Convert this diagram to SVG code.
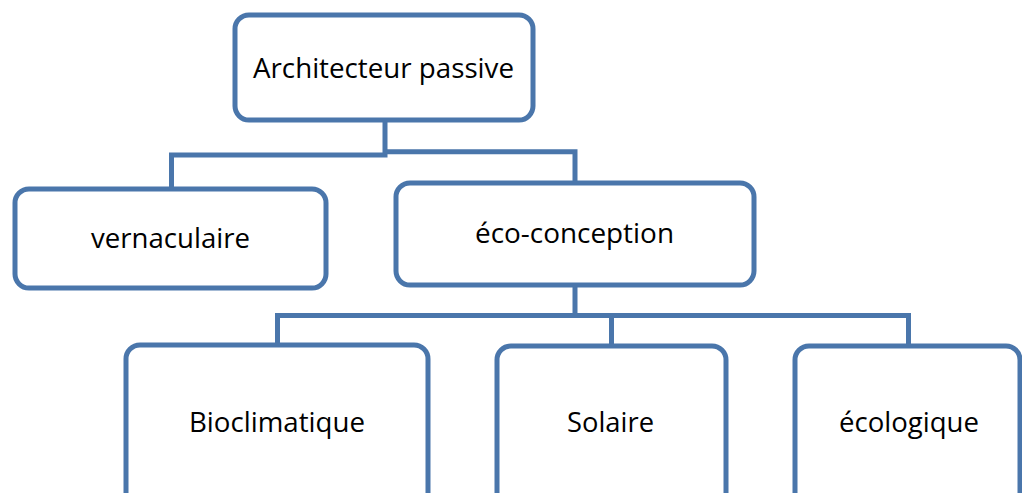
<svg xmlns="http://www.w3.org/2000/svg" width="1022" height="493" viewBox="0 0 1022 493">
<style>
.box{fill:#ffffff;stroke:#4A76AB;stroke-width:5;}
.conn{fill:none;stroke:#4A76AB;stroke-width:5;stroke-linejoin:miter;stroke-linecap:butt;}
.lbl{font-family:"Open Sans","Noto Sans","Liberation Sans",sans-serif;font-size:28px;fill:#000000;text-anchor:middle;}
</style>
<rect width="1022" height="493" fill="#ffffff"/>
<g id="connectors">
<path class="conn" d="M385,120 V155 H171.5 V189"/>
<path class="conn" d="M385,151.7 H575 V183"/>
<path class="conn" d="M575,285 V315.5 H277.5 V345"/>
<path class="conn" d="M575,315.5 H908.5 V346"/>
<path class="conn" d="M611.5,315.5 V346"/>
</g>
<g id="node-architecteur">
<rect class="box" x="235" y="15" width="298" height="105" rx="14"/>
<text class="lbl" x="383.5" y="78" textLength="261" lengthAdjust="spacingAndGlyphs">Architecteur passive</text>
</g>
<g id="node-vernaculaire">
<rect class="box" x="15" y="189" width="311" height="99" rx="14"/>
<text class="lbl" x="170.5" y="248" textLength="159" lengthAdjust="spacingAndGlyphs">vernaculaire</text>
</g>
<g id="node-eco-conception">
<rect class="box" x="396" y="183" width="358" height="102" rx="14"/>
<text class="lbl" x="574.5" y="243" textLength="199" lengthAdjust="spacingAndGlyphs">éco-conception</text>
</g>
<g id="node-bioclimatique">
<rect class="box" x="126" y="345" width="302" height="170" rx="14"/>
<text class="lbl" x="277" y="432" textLength="176" lengthAdjust="spacingAndGlyphs">Bioclimatique</text>
</g>
<g id="node-solaire">
<rect class="box" x="497" y="346" width="229" height="170" rx="14"/>
<text class="lbl" x="610.5" y="432" textLength="87" lengthAdjust="spacingAndGlyphs">Solaire</text>
</g>
<g id="node-ecologique">
<rect class="box" x="795" y="346" width="225" height="170" rx="14"/>
<text class="lbl" x="909" y="432" textLength="140" lengthAdjust="spacingAndGlyphs">écologique</text>
</g>
</svg>
